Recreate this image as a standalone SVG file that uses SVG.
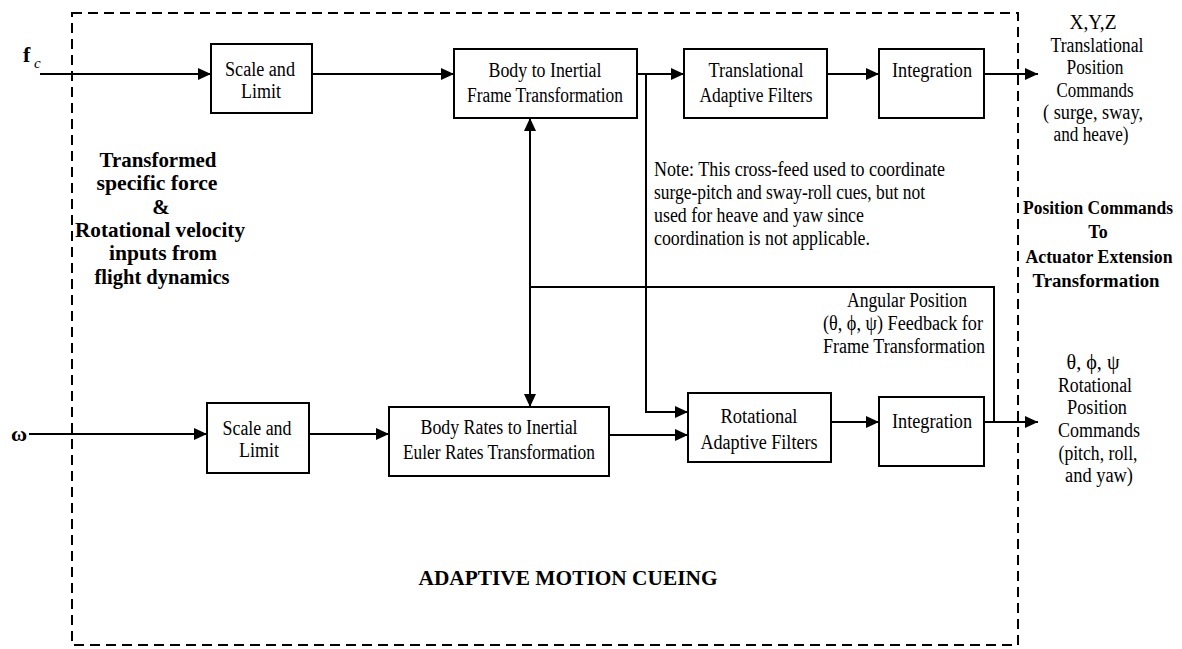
<svg xmlns="http://www.w3.org/2000/svg" width="1182" height="649" viewBox="0 0 1182 649">
  <style>
    .frame { fill: none; stroke: #000; stroke-width: 2; stroke-dasharray: 10 6; }
    .box { fill: #fff; stroke: #000; stroke-width: 2; }
    .wire { fill: none; stroke: #000; stroke-width: 2; }
    text { font-family: "Liberation Serif", "Times New Roman", serif; fill: #000; }
    .t { font-size: 20px; text-anchor: middle; }
    .n { font-size: 20px; text-anchor: start; }
    .b { font-size: 21px; font-weight: bold; text-anchor: middle; }
    .bs { font-size: 18px; font-weight: bold; text-anchor: middle; }
  </style>
  <defs>
    <marker id="arrow" markerUnits="userSpaceOnUse" markerWidth="14" markerHeight="12" refX="13" refY="6" orient="auto-start-reverse">
      <path d="M0,0 L13,6 L0,12 z" fill="#000"/>
    </marker>
  </defs>

  <rect x="0" y="0" width="1182" height="649" fill="#fff"/>

  <!-- adaptive motion cueing boundary -->
  <rect class="frame" x="72" y="13" width="946" height="632"/>

  <!-- input labels -->
  <g id="input-fc">
    <text x="23" y="62" style="font-size:22px;font-weight:bold">f</text>
    <text x="34" y="68" style="font-size:15px;font-style:italic">c</text>
  </g>
  <g id="input-omega">
    <text x="11" y="441" style="font-size:22px;font-weight:bold">ω</text>
  </g>

  <!-- connectors -->
  <g id="connectors">
    <line class="wire" x1="40" y1="74" x2="211" y2="74" marker-end="url(#arrow)"/>
    <line class="wire" x1="312" y1="74" x2="454" y2="74" marker-end="url(#arrow)"/>
    <line class="wire" x1="636" y1="74" x2="684" y2="74" marker-end="url(#arrow)"/>
    <line class="wire" x1="827" y1="74" x2="879" y2="74" marker-end="url(#arrow)"/>
    <line class="wire" x1="984" y1="74" x2="1038" y2="74" marker-end="url(#arrow)"/>
    <polyline class="wire" points="646,74 646,412 688,412" marker-end="url(#arrow)"/>
    <line class="wire" x1="530" y1="118" x2="530" y2="407" marker-start="url(#arrow)" marker-end="url(#arrow)"/>
    <polyline class="wire" points="530,287 994,287 994,422"/>
    <line class="wire" x1="29" y1="434" x2="207" y2="434" marker-end="url(#arrow)"/>
    <line class="wire" x1="305" y1="434" x2="389" y2="434" marker-end="url(#arrow)"/>
    <line class="wire" x1="602" y1="435" x2="688" y2="435" marker-end="url(#arrow)"/>
    <line class="wire" x1="831" y1="422" x2="879" y2="422" marker-end="url(#arrow)"/>
    <line class="wire" x1="984" y1="422" x2="1038" y2="422" marker-end="url(#arrow)"/>
  </g>

  <!-- translational channel -->
  <g id="scale-limit-force">
    <rect class="box" x="211" y="44" width="101" height="69"/>
    <text class="t" x="260" y="76" textLength="70" lengthAdjust="spacingAndGlyphs">Scale and</text>
    <text class="t" x="261" y="98" textLength="40" lengthAdjust="spacingAndGlyphs">Limit</text>
  </g>
  <g id="body-to-inertial">
    <rect class="box" x="454" y="49" width="183" height="69"/>
    <text class="t" x="545" y="77" textLength="113" lengthAdjust="spacingAndGlyphs">Body to Inertial</text>
    <text class="t" x="545" y="102" textLength="156" lengthAdjust="spacingAndGlyphs">Frame Transformation</text>
  </g>
  <g id="translational-filters">
    <rect class="box" x="684" y="49" width="143" height="69"/>
    <text class="t" x="756" y="77" textLength="95" lengthAdjust="spacingAndGlyphs">Translational</text>
    <text class="t" x="756" y="102" textLength="113" lengthAdjust="spacingAndGlyphs">Adaptive Filters</text>
  </g>
  <g id="integration-translational">
    <rect class="box" x="879" y="49" width="105" height="69"/>
    <text class="t" x="932" y="77" textLength="80" lengthAdjust="spacingAndGlyphs">Integration</text>
  </g>

  <!-- rotational channel -->
  <g id="scale-limit-rate">
    <rect class="box" x="207" y="403" width="102" height="70"/>
    <text class="t" x="257" y="435" textLength="69" lengthAdjust="spacingAndGlyphs">Scale and</text>
    <text class="t" x="259" y="457" textLength="40" lengthAdjust="spacingAndGlyphs">Limit</text>
  </g>
  <g id="body-rates-to-euler">
    <rect class="box" x="389" y="407" width="220" height="69"/>
    <text class="t" x="499" y="434" textLength="157" lengthAdjust="spacingAndGlyphs">Body Rates to Inertial</text>
    <text class="t" x="499" y="459" textLength="192" lengthAdjust="spacingAndGlyphs">Euler Rates Transformation</text>
  </g>
  <g id="rotational-filters">
    <rect class="box" x="688" y="393" width="143" height="69"/>
    <text class="t" x="759" y="423" textLength="77" lengthAdjust="spacingAndGlyphs">Rotational</text>
    <text class="t" x="759" y="449" textLength="117" lengthAdjust="spacingAndGlyphs">Adaptive Filters</text>
  </g>
  <g id="integration-rotational">
    <rect class="box" x="879" y="397" width="105" height="69"/>
    <text class="t" x="932" y="428" textLength="80" lengthAdjust="spacingAndGlyphs">Integration</text>
  </g>

  <!-- annotations -->
  <g id="input-description">
    <text class="b" x="158" y="167" textLength="117" lengthAdjust="spacingAndGlyphs">Transformed</text>
    <text class="b" x="157" y="190" textLength="121" lengthAdjust="spacingAndGlyphs">specific force</text>
    <text class="b" x="161" y="214">&amp;</text>
    <text class="b" x="160" y="237" textLength="170" lengthAdjust="spacingAndGlyphs">Rotational velocity</text>
    <text class="b" x="163" y="260" textLength="108" lengthAdjust="spacingAndGlyphs">inputs from</text>
    <text class="b" x="162" y="284" textLength="135" lengthAdjust="spacingAndGlyphs">flight dynamics</text>
  </g>
  <g id="crossfeed-note">
    <text class="n" x="654" y="176" textLength="291" lengthAdjust="spacingAndGlyphs">Note: This cross-feed used to coordinate</text>
    <text class="n" x="654" y="199" textLength="271" lengthAdjust="spacingAndGlyphs">surge-pitch and sway-roll cues, but not</text>
    <text class="n" x="654" y="222" textLength="210" lengthAdjust="spacingAndGlyphs">used for heave and yaw since</text>
    <text class="n" x="654" y="245" textLength="216" lengthAdjust="spacingAndGlyphs">coordination is not applicable.</text>
  </g>
  <g id="feedback-label">
    <text class="t" x="907" y="307" textLength="120" lengthAdjust="spacingAndGlyphs">Angular Position</text>
    <text class="t" x="903" y="330" textLength="160" lengthAdjust="spacingAndGlyphs">(θ, ϕ, ψ) Feedback for</text>
    <text class="t" x="904" y="353" textLength="162" lengthAdjust="spacingAndGlyphs">Frame Transformation</text>
  </g>
  <g id="translational-output">
    <text class="t" x="1093" y="29" textLength="47" lengthAdjust="spacingAndGlyphs">X,Y,Z</text>
    <text class="t" x="1097" y="52" textLength="93" lengthAdjust="spacingAndGlyphs">Translational</text>
    <text class="t" x="1095" y="74" textLength="57" lengthAdjust="spacingAndGlyphs">Position</text>
    <text class="t" x="1095" y="97" textLength="77" lengthAdjust="spacingAndGlyphs">Commands</text>
    <text class="t" x="1093" y="119" textLength="100" lengthAdjust="spacingAndGlyphs">( surge, sway,</text>
    <text class="t" x="1091" y="141" textLength="75" lengthAdjust="spacingAndGlyphs">and heave)</text>
  </g>
  <g id="actuator-note">
    <text class="bs" x="1098" y="214" textLength="150" lengthAdjust="spacingAndGlyphs">Position Commands</text>
    <text class="bs" x="1098" y="238">To</text>
    <text class="bs" x="1099" y="263" textLength="147" lengthAdjust="spacingAndGlyphs">Actuator Extension</text>
    <text class="bs" x="1096" y="287" textLength="127" lengthAdjust="spacingAndGlyphs">Transformation</text>
  </g>
  <g id="rotational-output">
    <text class="t" x="1093" y="369" textLength="53" lengthAdjust="spacingAndGlyphs">θ, ϕ, ψ</text>
    <text class="t" x="1095" y="392" textLength="74" lengthAdjust="spacingAndGlyphs">Rotational</text>
    <text class="t" x="1097" y="414" textLength="60" lengthAdjust="spacingAndGlyphs">Position</text>
    <text class="t" x="1099" y="437" textLength="82" lengthAdjust="spacingAndGlyphs">Commands</text>
    <text class="t" x="1098" y="460" textLength="79" lengthAdjust="spacingAndGlyphs">(pitch, roll,</text>
    <text class="t" x="1099" y="482" textLength="68" lengthAdjust="spacingAndGlyphs">and yaw)</text>
  </g>
  <g id="title">
    <text class="b" x="568" y="585" style="font-size:22px" textLength="299" lengthAdjust="spacingAndGlyphs">ADAPTIVE MOTION CUEING</text>
  </g>
</svg>
